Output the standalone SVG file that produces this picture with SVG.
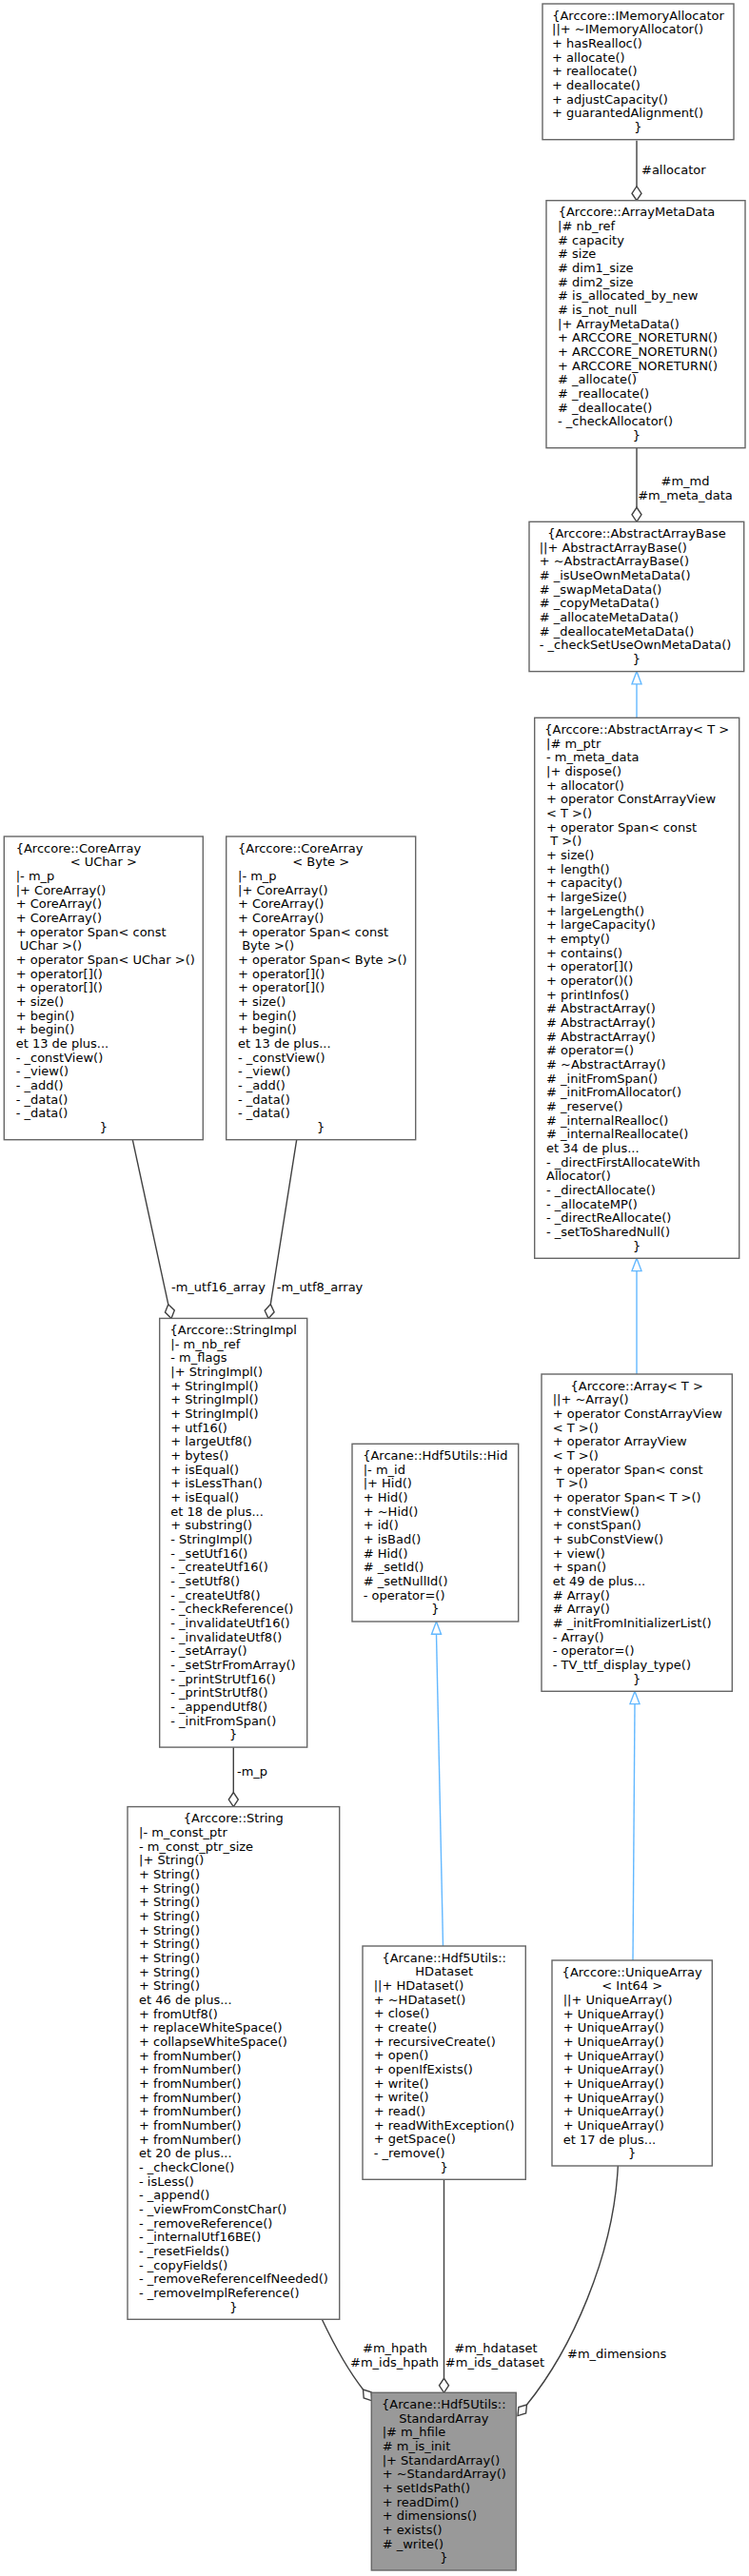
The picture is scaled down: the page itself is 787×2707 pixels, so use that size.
<svg xmlns="http://www.w3.org/2000/svg" width="787" height="2707" viewBox="0 0 787 2707">
<style>
text{font-family:"DejaVu Sans","Liberation Sans",sans-serif;font-size:13px;fill:#000}
.m{text-anchor:middle}
.box{fill:#fff;stroke:#666;stroke-width:1.4}
.hl{fill:#999;stroke:#666;stroke-width:1.4}
.e{fill:none;stroke:#404040;stroke-width:1.4}
.d{fill:#fff;stroke:#404040;stroke-width:1.4}
.i{fill:none;stroke:#63b8ff;stroke-width:1.4}
.t{fill:#fff;stroke:#63b8ff;stroke-width:1.4}
</style>
<rect width="787" height="2707" fill="#fff"/>
<g id="edges">
<path class="e" d="M669,147.7 L669,195.7"/>
<polygon class="d" points="669,210.7 674,203.2 669,195.7 664,203.2"/>
<text x="674" y="183">#allocator</text>
<path class="e" d="M669,470.7 L669,533.3"/>
<polygon class="d" points="669,548.3 674,540.8 669,533.3 664,540.8"/>
<text class="m" x="720" y="510">#m_md</text>
<text class="m" x="720" y="524.7">#m_meta_data</text>
<path class="i" d="M669,718.9 L669,754.3"/>
<polygon class="t" points="669,705.6 674,718.9 664,718.9"/>
<path class="i" d="M669,1335.6 L669,1444"/>
<polygon class="t" points="669,1322.3 674,1335.6 664,1335.6"/>
<path class="i" d="M667,1790.6 L665,2060"/>
<polygon class="t" points="667,1777.3 672,1790.6 662,1790.6"/>
<path class="i" d="M458.5,1717.3 L465.5,2045"/>
<polygon class="t" points="458.5,1704 463.5,1717.3 453.5,1717.3"/>
<path class="e" d="M466.5,2290.3 L466.5,2499.3"/>
<polygon class="d" points="466.5,2514.3 471.5,2506.8 466.5,2499.3 461.5,2506.8"/>
<text class="m" x="521" y="2472">#m_hdataset</text>
<text class="m" x="520" y="2486.7">#m_ids_dataset</text>
<path class="e" d="M338.3,2437.3 C350,2462 365,2490 381.5,2511"/>
<polygon class="d" points="390.8,2522.8 390.1,2513.8 381.5,2511 382.2,2520"/>
<text class="m" x="415" y="2472">#m_hpath</text>
<text class="m" x="414.5" y="2486.7">#m_ids_hpath</text>
<path class="e" d="M649.3,2276 C645,2370 600,2470 553.5,2527"/>
<polygon class="d" points="544,2538.6 544.9,2529.6 553.5,2527 552.6,2536"/>
<text x="596" y="2478">#m_dimensions</text>
<path class="e" d="M139.3,1197.7 L176.8,1370.7"/>
<polygon class="d" points="180,1385.4 183.3,1377 176.8,1370.7 173.5,1379.1"/>
<text x="180" y="1357">-m_utf16_array</text>
<path class="e" d="M311.7,1197.7 L284.3,1370.6"/>
<polygon class="d" points="282,1385.4 278.2,1377.2 284.3,1370.6 288.1,1378.8"/>
<text x="290.7" y="1357">-m_utf8_array</text>
<path class="e" d="M245.3,1836.1 L245.3,1883.6"/>
<polygon class="d" points="245.3,1898.6 250.3,1891.1 245.3,1883.6 240.3,1891.1"/>
<text x="249" y="1866">-m_p</text>
</g>
<g id="IMemoryAllocator">
<rect class="box" x="570" y="4" width="201" height="142.7"/>
<text y="20.7"><tspan class="m" x="670.5">{Arccore::IMemoryAllocator</tspan><tspan x="580" dy="14.667">||+ ~IMemoryAllocator()</tspan><tspan x="580" dy="14.667">+ hasRealloc()</tspan><tspan x="580" dy="14.667">+ allocate()</tspan><tspan x="580" dy="14.667">+ reallocate()</tspan><tspan x="580" dy="14.667">+ deallocate()</tspan><tspan x="580" dy="14.667">+ adjustCapacity()</tspan><tspan x="580" dy="14.667">+ guarantedAlignment()</tspan><tspan class="m" x="670.5" dy="14.667">}</tspan></text>
</g>
<g id="ArrayMetaData">
<rect class="box" x="574" y="210.7" width="209" height="260"/>
<text y="227.4"><tspan class="m" x="669">{Arccore::ArrayMetaData</tspan><tspan x="586" dy="14.667">|# nb_ref</tspan><tspan x="586" dy="14.667"># capacity</tspan><tspan x="586" dy="14.667"># size</tspan><tspan x="586" dy="14.667"># dim1_size</tspan><tspan x="586" dy="14.667"># dim2_size</tspan><tspan x="586" dy="14.667"># is_allocated_by_new</tspan><tspan x="586" dy="14.667"># is_not_null</tspan><tspan x="586" dy="14.667">|+ ArrayMetaData()</tspan><tspan x="586" dy="14.667">+ ARCCORE_NORETURN()</tspan><tspan x="586" dy="14.667">+ ARCCORE_NORETURN()</tspan><tspan x="586" dy="14.667">+ ARCCORE_NORETURN()</tspan><tspan x="586" dy="14.667"># _allocate()</tspan><tspan x="586" dy="14.667"># _reallocate()</tspan><tspan x="586" dy="14.667"># _deallocate()</tspan><tspan x="586" dy="14.667">- _checkAllocator()</tspan><tspan class="m" x="669" dy="14.667">}</tspan></text>
</g>
<g id="AbstractArrayBase">
<rect class="box" x="556" y="548.3" width="225.7" height="157.3"/>
<text y="565"><tspan class="m" x="668.9">{Arccore::AbstractArrayBase</tspan><tspan x="566.7" dy="14.667">||+ AbstractArrayBase()</tspan><tspan x="566.7" dy="14.667">+ ~AbstractArrayBase()</tspan><tspan x="566.7" dy="14.667"># _isUseOwnMetaData()</tspan><tspan x="566.7" dy="14.667"># _swapMetaData()</tspan><tspan x="566.7" dy="14.667"># _copyMetaData()</tspan><tspan x="566.7" dy="14.667"># _allocateMetaData()</tspan><tspan x="566.7" dy="14.667"># _deallocateMetaData()</tspan><tspan x="566.7" dy="14.667">- _checkSetUseOwnMetaData()</tspan><tspan class="m" x="668.9" dy="14.667">}</tspan></text>
</g>
<g id="AbstractArray">
<rect class="box" x="561.7" y="754.3" width="215" height="568"/>
<text y="771"><tspan class="m" x="669.2">{Arccore::AbstractArray&lt; T &gt;</tspan><tspan x="574" dy="14.667">|# m_ptr</tspan><tspan x="574" dy="14.667">- m_meta_data</tspan><tspan x="574" dy="14.667">|+ dispose()</tspan><tspan x="574" dy="14.667">+ allocator()</tspan><tspan x="574" dy="14.667">+ operator ConstArrayView</tspan><tspan x="574" dy="14.667">&lt; T &gt;()</tspan><tspan x="574" dy="14.667">+ operator Span&lt; const</tspan><tspan x="574" dy="14.667">&#160;T &gt;()</tspan><tspan x="574" dy="14.667">+ size()</tspan><tspan x="574" dy="14.667">+ length()</tspan><tspan x="574" dy="14.667">+ capacity()</tspan><tspan x="574" dy="14.667">+ largeSize()</tspan><tspan x="574" dy="14.667">+ largeLength()</tspan><tspan x="574" dy="14.667">+ largeCapacity()</tspan><tspan x="574" dy="14.667">+ empty()</tspan><tspan x="574" dy="14.667">+ contains()</tspan><tspan x="574" dy="14.667">+ operator[]()</tspan><tspan x="574" dy="14.667">+ operator()()</tspan><tspan x="574" dy="14.667">+ printInfos()</tspan><tspan x="574" dy="14.667"># AbstractArray()</tspan><tspan x="574" dy="14.667"># AbstractArray()</tspan><tspan x="574" dy="14.667"># AbstractArray()</tspan><tspan x="574" dy="14.667"># operator=()</tspan><tspan x="574" dy="14.667"># ~AbstractArray()</tspan><tspan x="574" dy="14.667"># _initFromSpan()</tspan><tspan x="574" dy="14.667"># _initFromAllocator()</tspan><tspan x="574" dy="14.667"># _reserve()</tspan><tspan x="574" dy="14.667"># _internalRealloc()</tspan><tspan x="574" dy="14.667"># _internalReallocate()</tspan><tspan x="574" dy="14.667">et 34 de plus...</tspan><tspan x="574" dy="14.667">- _directFirstAllocateWith</tspan><tspan x="574" dy="14.667">Allocator()</tspan><tspan x="574" dy="14.667">- _directAllocate()</tspan><tspan x="574" dy="14.667">- _allocateMP()</tspan><tspan x="574" dy="14.667">- _directReAllocate()</tspan><tspan x="574" dy="14.667">- _setToSharedNull()</tspan><tspan class="m" x="669.2" dy="14.667">}</tspan></text>
</g>
<g id="Array">
<rect class="box" x="569" y="1444" width="200.3" height="333.3"/>
<text y="1460.7"><tspan class="m" x="669.2">{Arccore::Array&lt; T &gt;</tspan><tspan x="580.7" dy="14.667">||+ ~Array()</tspan><tspan x="580.7" dy="14.667">+ operator ConstArrayView</tspan><tspan x="580.7" dy="14.667">&lt; T &gt;()</tspan><tspan x="580.7" dy="14.667">+ operator ArrayView</tspan><tspan x="580.7" dy="14.667">&lt; T &gt;()</tspan><tspan x="580.7" dy="14.667">+ operator Span&lt; const</tspan><tspan x="580.7" dy="14.667">&#160;T &gt;()</tspan><tspan x="580.7" dy="14.667">+ operator Span&lt; T &gt;()</tspan><tspan x="580.7" dy="14.667">+ constView()</tspan><tspan x="580.7" dy="14.667">+ constSpan()</tspan><tspan x="580.7" dy="14.667">+ subConstView()</tspan><tspan x="580.7" dy="14.667">+ view()</tspan><tspan x="580.7" dy="14.667">+ span()</tspan><tspan x="580.7" dy="14.667">et 49 de plus...</tspan><tspan x="580.7" dy="14.667"># Array()</tspan><tspan x="580.7" dy="14.667"># Array()</tspan><tspan x="580.7" dy="14.667"># _initFromInitializerList()</tspan><tspan x="580.7" dy="14.667">- Array()</tspan><tspan x="580.7" dy="14.667">- operator=()</tspan><tspan x="580.7" dy="14.667">- TV_ttf_display_type()</tspan><tspan class="m" x="669.2" dy="14.667">}</tspan></text>
</g>
<g id="UniqueArray">
<rect class="box" x="580" y="2060" width="168.3" height="216"/>
<text y="2076.7"><tspan class="m" x="664.2">{Arccore::UniqueArray</tspan><tspan class="m" x="664.2" dy="14.667">&lt; Int64 &gt;</tspan><tspan x="591.7" dy="14.667">||+ UniqueArray()</tspan><tspan x="591.7" dy="14.667">+ UniqueArray()</tspan><tspan x="591.7" dy="14.667">+ UniqueArray()</tspan><tspan x="591.7" dy="14.667">+ UniqueArray()</tspan><tspan x="591.7" dy="14.667">+ UniqueArray()</tspan><tspan x="591.7" dy="14.667">+ UniqueArray()</tspan><tspan x="591.7" dy="14.667">+ UniqueArray()</tspan><tspan x="591.7" dy="14.667">+ UniqueArray()</tspan><tspan x="591.7" dy="14.667">+ UniqueArray()</tspan><tspan x="591.7" dy="14.667">+ UniqueArray()</tspan><tspan x="591.7" dy="14.667">et 17 de plus...</tspan><tspan class="m" x="664.2" dy="14.667">}</tspan></text>
</g>
<g id="Hid">
<rect class="box" x="370" y="1517.3" width="174.7" height="186.7"/>
<text y="1534"><tspan class="m" x="457.3">{Arcane::Hdf5Utils::Hid</tspan><tspan x="381.7" dy="14.667">|- m_id</tspan><tspan x="381.7" dy="14.667">|+ Hid()</tspan><tspan x="381.7" dy="14.667">+ Hid()</tspan><tspan x="381.7" dy="14.667">+ ~Hid()</tspan><tspan x="381.7" dy="14.667">+ id()</tspan><tspan x="381.7" dy="14.667">+ isBad()</tspan><tspan x="381.7" dy="14.667"># Hid()</tspan><tspan x="381.7" dy="14.667"># _setId()</tspan><tspan x="381.7" dy="14.667"># _setNullId()</tspan><tspan x="381.7" dy="14.667">- operator=()</tspan><tspan class="m" x="457.3" dy="14.667">}</tspan></text>
</g>
<g id="HDataset">
<rect class="box" x="381" y="2045" width="171.3" height="245.3"/>
<text y="2061.7"><tspan class="m" x="466.7">{Arcane::Hdf5Utils::</tspan><tspan class="m" x="466.7" dy="14.667">HDataset</tspan><tspan x="392.7" dy="14.667">||+ HDataset()</tspan><tspan x="392.7" dy="14.667">+ ~HDataset()</tspan><tspan x="392.7" dy="14.667">+ close()</tspan><tspan x="392.7" dy="14.667">+ create()</tspan><tspan x="392.7" dy="14.667">+ recursiveCreate()</tspan><tspan x="392.7" dy="14.667">+ open()</tspan><tspan x="392.7" dy="14.667">+ openIfExists()</tspan><tspan x="392.7" dy="14.667">+ write()</tspan><tspan x="392.7" dy="14.667">+ write()</tspan><tspan x="392.7" dy="14.667">+ read()</tspan><tspan x="392.7" dy="14.667">+ readWithException()</tspan><tspan x="392.7" dy="14.667">+ getSpace()</tspan><tspan x="392.7" dy="14.667">- _remove()</tspan><tspan class="m" x="466.7" dy="14.667">}</tspan></text>
</g>
<g id="StandardArray">
<rect class="hl" x="390.3" y="2514.3" width="152" height="186.7"/>
<text y="2531"><tspan class="m" x="466.3">{Arcane::Hdf5Utils::</tspan><tspan class="m" x="466.3" dy="14.667">StandardArray</tspan><tspan x="401.7" dy="14.667">|# m_hfile</tspan><tspan x="401.7" dy="14.667"># m_is_init</tspan><tspan x="401.7" dy="14.667">|+ StandardArray()</tspan><tspan x="401.7" dy="14.667">+ ~StandardArray()</tspan><tspan x="401.7" dy="14.667">+ setIdsPath()</tspan><tspan x="401.7" dy="14.667">+ readDim()</tspan><tspan x="401.7" dy="14.667">+ dimensions()</tspan><tspan x="401.7" dy="14.667">+ exists()</tspan><tspan x="401.7" dy="14.667"># _write()</tspan><tspan class="m" x="466.3" dy="14.667">}</tspan></text>
</g>
<g id="String">
<rect class="box" x="134" y="1898.6" width="222.7" height="538.7"/>
<text y="1915.3"><tspan class="m" x="245.3">{Arccore::String</tspan><tspan x="146" dy="14.667">|- m_const_ptr</tspan><tspan x="146" dy="14.667">- m_const_ptr_size</tspan><tspan x="146" dy="14.667">|+ String()</tspan><tspan x="146" dy="14.667">+ String()</tspan><tspan x="146" dy="14.667">+ String()</tspan><tspan x="146" dy="14.667">+ String()</tspan><tspan x="146" dy="14.667">+ String()</tspan><tspan x="146" dy="14.667">+ String()</tspan><tspan x="146" dy="14.667">+ String()</tspan><tspan x="146" dy="14.667">+ String()</tspan><tspan x="146" dy="14.667">+ String()</tspan><tspan x="146" dy="14.667">+ String()</tspan><tspan x="146" dy="14.667">et 46 de plus...</tspan><tspan x="146" dy="14.667">+ fromUtf8()</tspan><tspan x="146" dy="14.667">+ replaceWhiteSpace()</tspan><tspan x="146" dy="14.667">+ collapseWhiteSpace()</tspan><tspan x="146" dy="14.667">+ fromNumber()</tspan><tspan x="146" dy="14.667">+ fromNumber()</tspan><tspan x="146" dy="14.667">+ fromNumber()</tspan><tspan x="146" dy="14.667">+ fromNumber()</tspan><tspan x="146" dy="14.667">+ fromNumber()</tspan><tspan x="146" dy="14.667">+ fromNumber()</tspan><tspan x="146" dy="14.667">+ fromNumber()</tspan><tspan x="146" dy="14.667">et 20 de plus...</tspan><tspan x="146" dy="14.667">- _checkClone()</tspan><tspan x="146" dy="14.667">- isLess()</tspan><tspan x="146" dy="14.667">- _append()</tspan><tspan x="146" dy="14.667">- _viewFromConstChar()</tspan><tspan x="146" dy="14.667">- _removeReference()</tspan><tspan x="146" dy="14.667">- _internalUtf16BE()</tspan><tspan x="146" dy="14.667">- _resetFields()</tspan><tspan x="146" dy="14.667">- _copyFields()</tspan><tspan x="146" dy="14.667">- _removeReferenceIfNeeded()</tspan><tspan x="146" dy="14.667">- _removeImplReference()</tspan><tspan class="m" x="245.3" dy="14.667">}</tspan></text>
</g>
<g id="StringImpl">
<rect class="box" x="167.7" y="1385.4" width="155" height="450.7"/>
<text y="1402.1"><tspan class="m" x="245.2">{Arccore::StringImpl</tspan><tspan x="179.3" dy="14.667">|- m_nb_ref</tspan><tspan x="179.3" dy="14.667">- m_flags</tspan><tspan x="179.3" dy="14.667">|+ StringImpl()</tspan><tspan x="179.3" dy="14.667">+ StringImpl()</tspan><tspan x="179.3" dy="14.667">+ StringImpl()</tspan><tspan x="179.3" dy="14.667">+ StringImpl()</tspan><tspan x="179.3" dy="14.667">+ utf16()</tspan><tspan x="179.3" dy="14.667">+ largeUtf8()</tspan><tspan x="179.3" dy="14.667">+ bytes()</tspan><tspan x="179.3" dy="14.667">+ isEqual()</tspan><tspan x="179.3" dy="14.667">+ isLessThan()</tspan><tspan x="179.3" dy="14.667">+ isEqual()</tspan><tspan x="179.3" dy="14.667">et 18 de plus...</tspan><tspan x="179.3" dy="14.667">+ substring()</tspan><tspan x="179.3" dy="14.667">- StringImpl()</tspan><tspan x="179.3" dy="14.667">- _setUtf16()</tspan><tspan x="179.3" dy="14.667">- _createUtf16()</tspan><tspan x="179.3" dy="14.667">- _setUtf8()</tspan><tspan x="179.3" dy="14.667">- _createUtf8()</tspan><tspan x="179.3" dy="14.667">- _checkReference()</tspan><tspan x="179.3" dy="14.667">- _invalidateUtf16()</tspan><tspan x="179.3" dy="14.667">- _invalidateUtf8()</tspan><tspan x="179.3" dy="14.667">- _setArray()</tspan><tspan x="179.3" dy="14.667">- _setStrFromArray()</tspan><tspan x="179.3" dy="14.667">- _printStrUtf16()</tspan><tspan x="179.3" dy="14.667">- _printStrUtf8()</tspan><tspan x="179.3" dy="14.667">- _appendUtf8()</tspan><tspan x="179.3" dy="14.667">- _initFromSpan()</tspan><tspan class="m" x="245.2" dy="14.667">}</tspan></text>
</g>
<g id="CoreArrayUChar">
<rect class="box" x="4.3" y="879" width="209" height="318.7"/>
<text y="895.7"><tspan x="16.7">{Arccore::CoreArray</tspan><tspan class="m" x="108.8" dy="14.667">&lt; UChar &gt;</tspan><tspan x="16.7" dy="14.667">|- m_p</tspan><tspan x="16.7" dy="14.667">|+ CoreArray()</tspan><tspan x="16.7" dy="14.667">+ CoreArray()</tspan><tspan x="16.7" dy="14.667">+ CoreArray()</tspan><tspan x="16.7" dy="14.667">+ operator Span&lt; const</tspan><tspan x="16.7" dy="14.667">&#160;UChar &gt;()</tspan><tspan x="16.7" dy="14.667">+ operator Span&lt; UChar &gt;()</tspan><tspan x="16.7" dy="14.667">+ operator[]()</tspan><tspan x="16.7" dy="14.667">+ operator[]()</tspan><tspan x="16.7" dy="14.667">+ size()</tspan><tspan x="16.7" dy="14.667">+ begin()</tspan><tspan x="16.7" dy="14.667">+ begin()</tspan><tspan x="16.7" dy="14.667">et 13 de plus...</tspan><tspan x="16.7" dy="14.667">- _constView()</tspan><tspan x="16.7" dy="14.667">- _view()</tspan><tspan x="16.7" dy="14.667">- _add()</tspan><tspan x="16.7" dy="14.667">- _data()</tspan><tspan x="16.7" dy="14.667">- _data()</tspan><tspan class="m" x="108.8" dy="14.667">}</tspan></text>
</g>
<g id="CoreArrayByte">
<rect class="box" x="237.7" y="879" width="199" height="318.7"/>
<text y="895.7"><tspan x="250">{Arccore::CoreArray</tspan><tspan class="m" x="337.2" dy="14.667">&lt; Byte &gt;</tspan><tspan x="250" dy="14.667">|- m_p</tspan><tspan x="250" dy="14.667">|+ CoreArray()</tspan><tspan x="250" dy="14.667">+ CoreArray()</tspan><tspan x="250" dy="14.667">+ CoreArray()</tspan><tspan x="250" dy="14.667">+ operator Span&lt; const</tspan><tspan x="250" dy="14.667">&#160;Byte &gt;()</tspan><tspan x="250" dy="14.667">+ operator Span&lt; Byte &gt;()</tspan><tspan x="250" dy="14.667">+ operator[]()</tspan><tspan x="250" dy="14.667">+ operator[]()</tspan><tspan x="250" dy="14.667">+ size()</tspan><tspan x="250" dy="14.667">+ begin()</tspan><tspan x="250" dy="14.667">+ begin()</tspan><tspan x="250" dy="14.667">et 13 de plus...</tspan><tspan x="250" dy="14.667">- _constView()</tspan><tspan x="250" dy="14.667">- _view()</tspan><tspan x="250" dy="14.667">- _add()</tspan><tspan x="250" dy="14.667">- _data()</tspan><tspan x="250" dy="14.667">- _data()</tspan><tspan class="m" x="337.2" dy="14.667">}</tspan></text>
</g>
</svg>
